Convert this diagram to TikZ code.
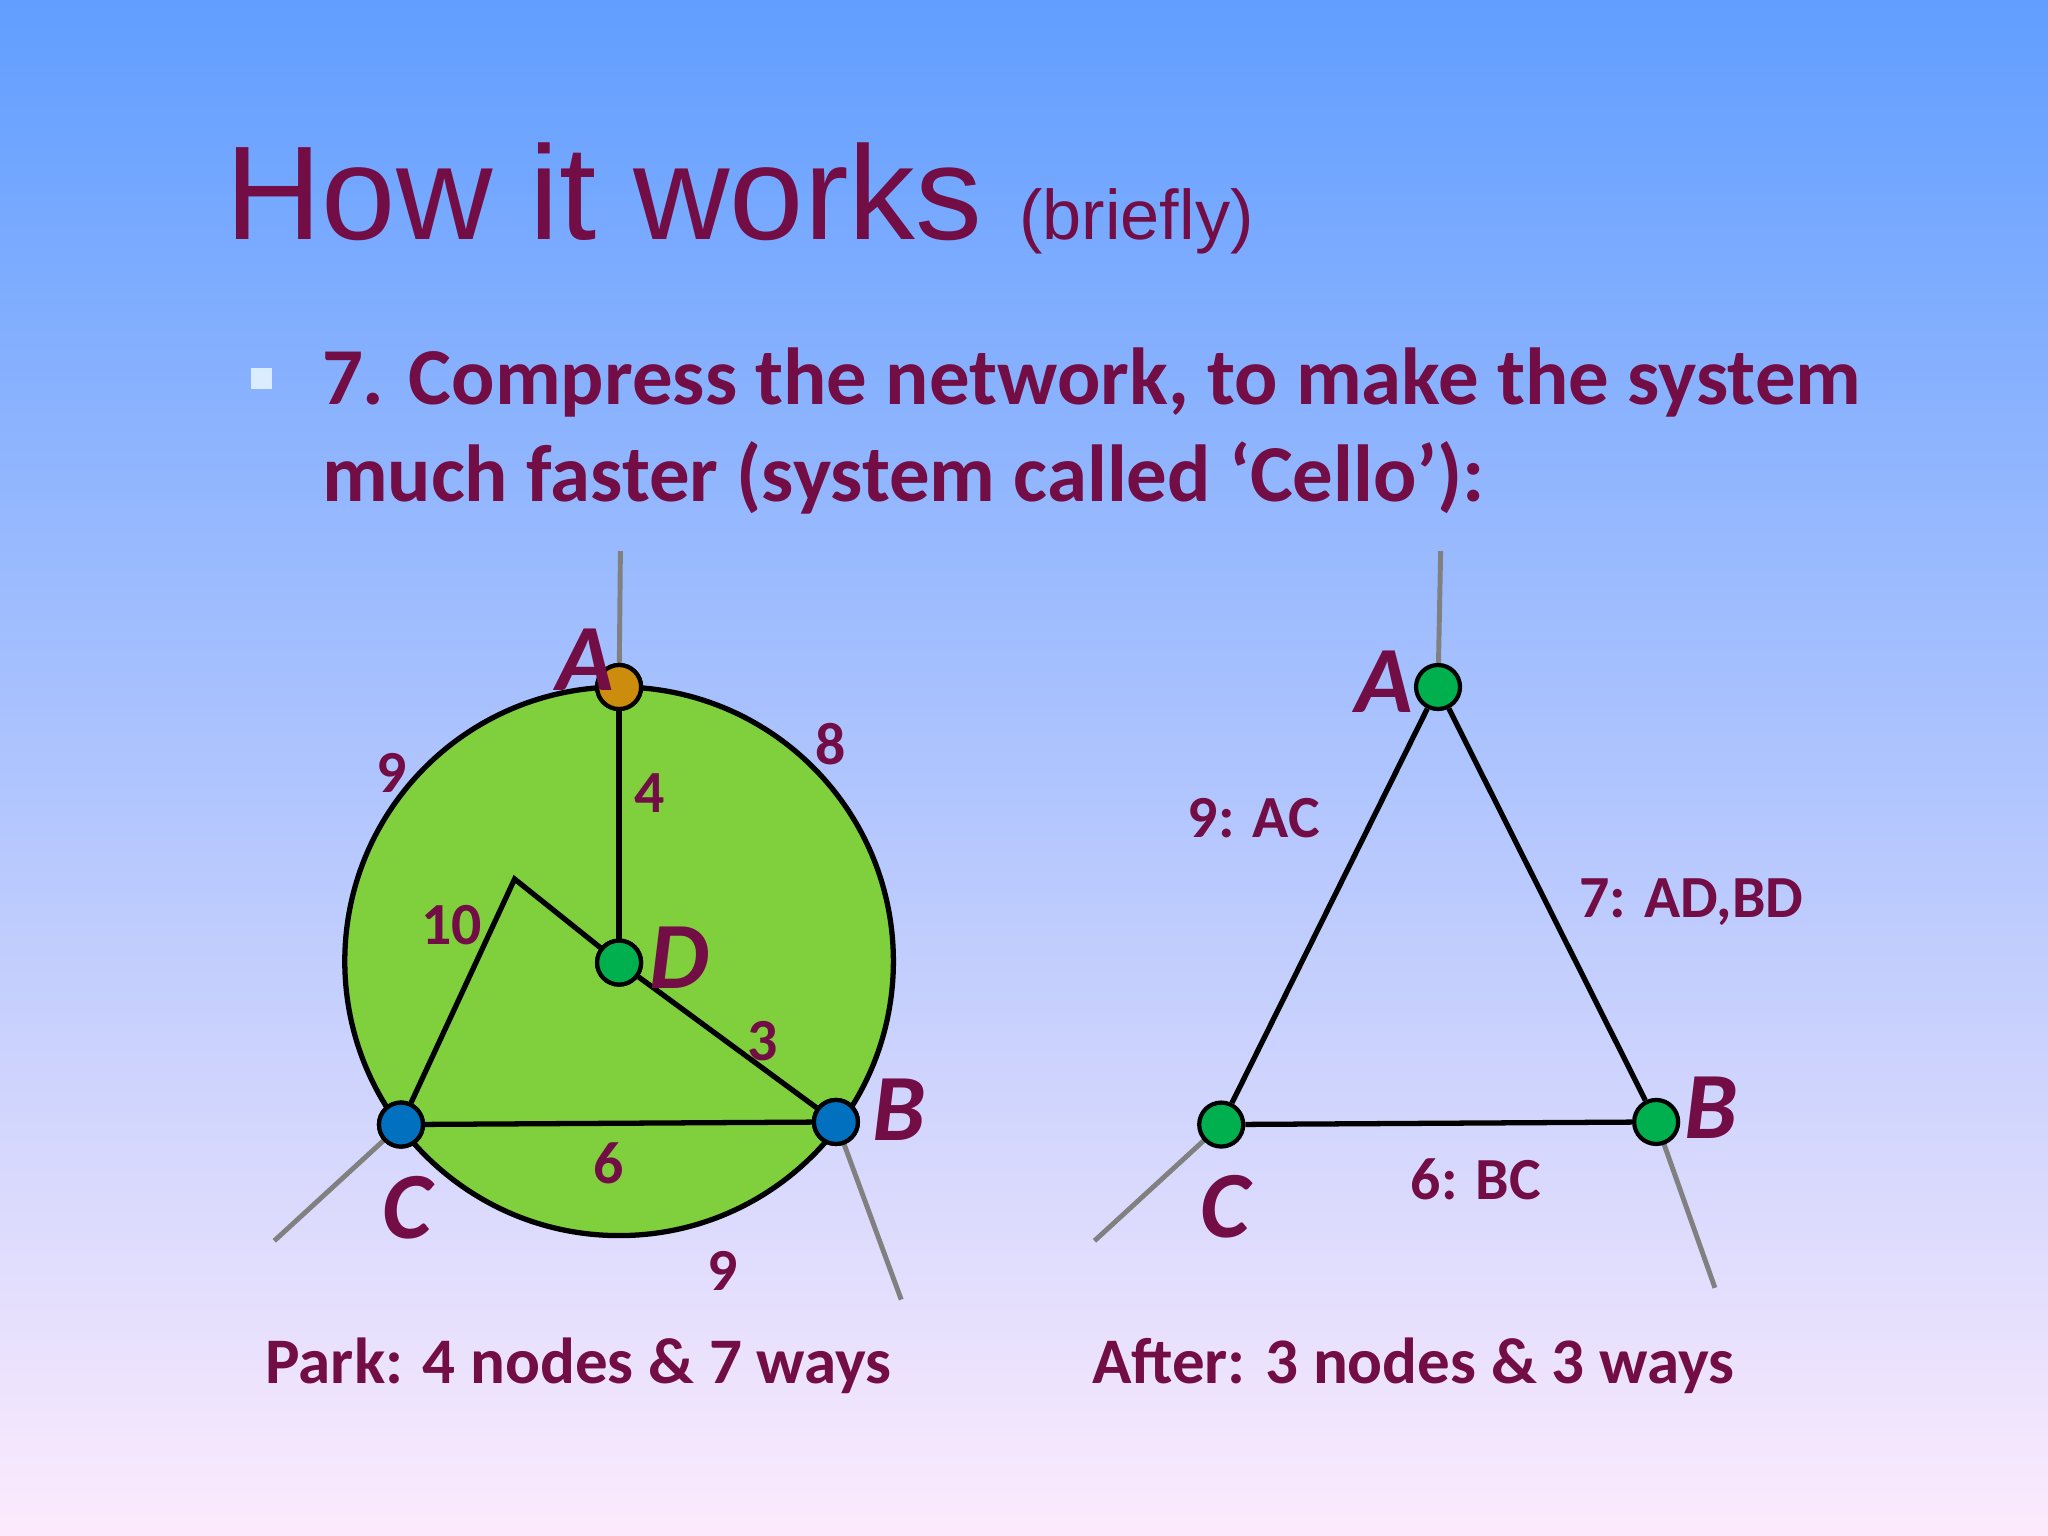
\documentclass[tikz,border=0pt]{standalone}
\usepackage{fontspec}
\setmainfont{Carlito}
\newfontfamily\titlefont{Liberation Sans}
\definecolor{maroon}{rgb}{0.45,0.05,0.27}
\definecolor{topblue}{rgb}{0.38,0.62,1}
\definecolor{botpink}{rgb}{0.99,0.92,0.99}
\definecolor{parkgreen}{rgb}{0.5,0.81,0.24}
\definecolor{dotgreen}{rgb}{0,0.69,0.31}
\definecolor{dotblue}{rgb}{0,0.44,0.75}
\definecolor{dotorange}{rgb}{0.8,0.55,0.05}
\begin{document}
\begin{tikzpicture}[x=0.013061cm,y=-0.013061cm,
  txt/.style={text=maroon,font=\bfseries\fontsize{17}{20}\selectfont,inner sep=0pt},
  lbl/.style={text=maroon,font=\bfseries\itshape\fontsize{27}{30}\selectfont,inner sep=0pt},
  dot/.style={circle,draw=black,line width=1.2pt,minimum size=0.44cm,inner sep=0pt},
  edge/.style={line width=1.5pt,draw=black},
  stub/.style={line width=1.4pt,draw=gray}]
\useasboundingbox (0,0) rectangle (1568,1176);
\shade[top color=topblue,bottom color=botpink] (0,0) rectangle (1568,1176);
\node[anchor=base west,text=maroon,inner sep=0pt] (title) at (172,183) {\titlefont\fontsize{38}{44}\selectfont How it works \fontsize{20}{24}\selectfont(briefly)};
\fill[color={rgb,1:red,0.85;green,0.93;blue,1}] (192,282) rectangle (208,298);
\node[anchor=north west,text=maroon,align=left,inner sep=0pt,font=\bfseries\fontsize{23}{27.5}\selectfont] (bul) at (246,266) {7. Compress the network, to make the system\\much faster (system called ‘Cello’):};
% left graph
\coordinate (cc) at (474,736);
\coordinate (A1t) at (475,422); \coordinate (C1t) at (210,950); \coordinate (B1t) at (690,995);
\coordinate (bend) at (394,673);
\draw[stub] (A1t) -- (474,526);
\draw[stub] (C1t) -- (307,861);
\draw[stub] (B1t) -- (640,859);
\draw[edge,fill=parkgreen] (cc) circle[radius=2.743cm];
\node[dot,fill=dotorange] (A1) at (474,526) {};
\node[dot,fill=dotgreen] (D1) at (474,737) {};
\node[dot,fill=dotblue] (B1) at (640,859) {};
\node[dot,fill=dotblue] (C1) at (307,861) {};
\draw[edge] (A1) -- (D1); \draw[edge] (D1) -- (B1); \draw[edge] (C1) -- (B1);
\draw[edge] (C1) -- (bend) -- (D1);
\node[dot,fill=dotorange] at (A1) {};
\node[dot,fill=dotgreen] at (D1) {};
\node[dot,fill=dotblue] at (B1) {};
\node[dot,fill=dotblue] at (C1) {};
\node[lbl] at (448,505) {A};
\node[lbl] at (520,733) {D};
\node[lbl] at (688,850) {B};
\node[lbl] at (312,925) {C};
\node[txt] at (300,592) {9};
\node[txt] at (636,570) {8};
\node[txt] at (497,607) {4};
\node[txt] at (346,708) {10};
\node[txt] at (584,797) {3};
\node[txt] at (466,891) {6};
\node[txt] at (553,973) {9};
\node[txt,font=\bfseries\fontsize{18.5}{22}\selectfont] (cap1) at (443,1046) {Park: 4 nodes \& 7 ways};
% right graph
\coordinate (A2t) at (1103,422); \coordinate (C2t) at (838,950); \coordinate (B2t) at (1313,986);
\draw[stub] (A2t) -- (1101,526);
\draw[stub] (C2t) -- (935,861);
\draw[stub] (B2t) -- (1268,859);
\node[dot,fill=dotgreen] (A2) at (1101,526) {};
\node[dot,fill=dotgreen] (B2) at (1268,859) {};
\node[dot,fill=dotgreen] (C2) at (935,861) {};
\draw[edge] (A2) -- (C2); \draw[edge] (A2) -- (B2); \draw[edge] (C2) -- (B2);
\node[lbl] at (1060,522) {A};
\node[lbl] at (1310,848) {B};
\node[lbl] at (938,924) {C};
\node[txt] at (960,626) {9: AC};
\node[txt] at (1295,691) {7: AD,BD};
\node[txt] at (1130,903) {6: BC};
\node[txt,font=\bfseries\fontsize{18.5}{22}\selectfont] (cap2) at (1082,1046) {After: 3 nodes \& 3 ways};
\end{tikzpicture}
\end{document}
